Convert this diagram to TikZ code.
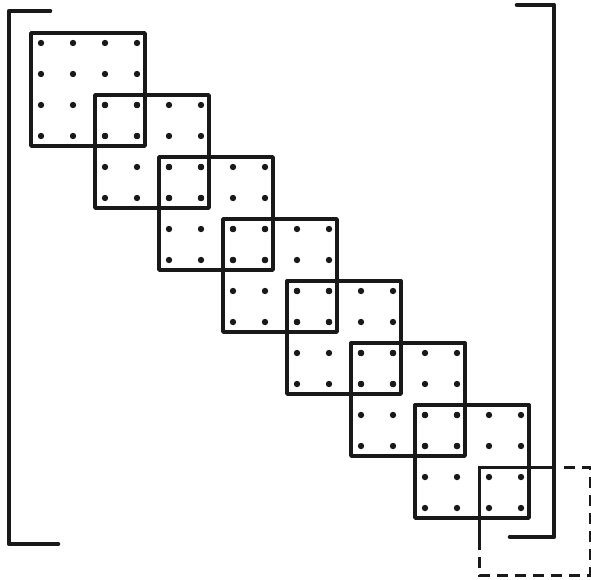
\documentclass[tikz,border=0pt]{standalone}
\begin{document}
\begin{tikzpicture}[x=1pt,y=-1pt,
  blockbox/.style={line width=3.4pt,draw=black!90,line join=round},
  bracketline/.style={line width=4.6pt,draw=black!90,line cap=round,line join=round},
  dashpart/.style={line width=3pt,draw=black!90,dash pattern=on 11pt off 7pt},
  dotmark/.style={fill=black!90}]
\useasboundingbox (0,0) rectangle (591,579);
% brackets
\draw[bracketline] (50,11) -- (9,11) -- (9,544) -- (58,544);
\draw[bracketline] (517,5) -- (554,5) -- (554,537) -- (510,537);
% blocks
\foreach \i in {0,...,6}{
  \pgfmathsetmacro{\lx}{31+64*\i}
  \pgfmathsetmacro{\ty}{33+62*\i}
  \draw[blockbox] (\lx,\ty) rectangle ++(114,113);
  \foreach \j in {0,...,3}{
    \foreach \k in {0,...,3}{
      \fill[dotmark] (\lx+10+32*\j,\ty+10+31*\k) circle (3.2pt);
    }
  }
}
% partial block beyond the matrix
\coordinate (dA) at (479,542);
\coordinate (dB) at (479,467);
\coordinate (dC) at (554,467);
\coordinate (dD) at (590,467);
\coordinate (dE) at (590,575);
\coordinate (dF) at (479,575);
\draw[line width=3pt,draw=black!90] (dA) -- (dB) -- (dC);
\draw[dashpart] (dC) ++(10,0) -- (dD) -- (dE) -- (dF) -- (dA);
\end{tikzpicture}
\end{document}
